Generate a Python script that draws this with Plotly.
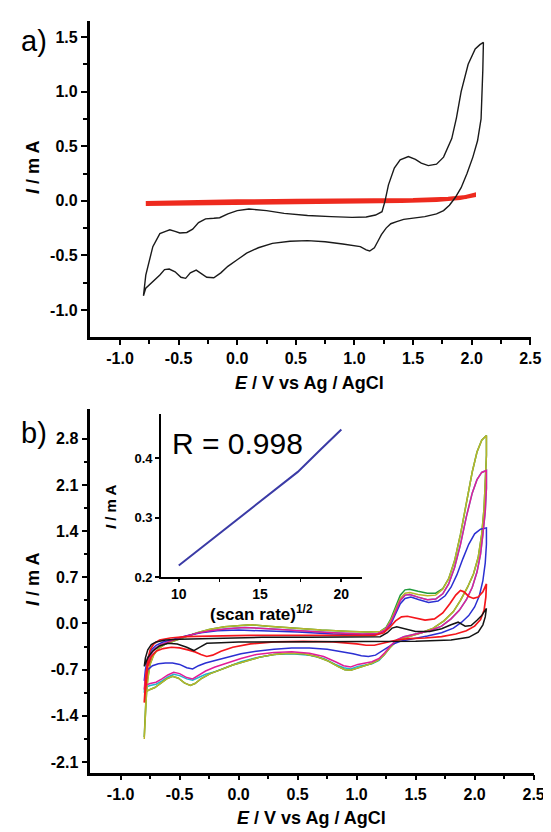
import plotly.graph_objects as go

# ---------------- data ----------------
# panel a tick labels
a_x_ticks = [-1.0, -0.5, 0.0, 0.5, 1.0, 1.5, 2.0, 2.5]
a_x_ticklabels = ['-1.0', '-0.5', '0.0', '0.5', '1.0', '1.5', '2.0', '2.5']
a_x_minor = [-0.75, -0.25, 0.25, 0.75, 1.25, 1.75, 2.25]
a_y_ticks = [-1.0, -0.5, 0.0, 0.5, 1.0, 1.5]
a_y_ticklabels = ['-1.0', '-0.5', '0.0', '0.5', '1.0', '1.5']
a_y_minor = [-0.75, -0.25, 0.25, 0.75, 1.25]

# panel b tick labels
b_y_ticks = [-2.1, -1.4, -0.7, 0.0, 0.7, 1.4, 2.1, 2.8]
b_y_ticklabels = ['-2.1', '-1.4', '-0.7', '0.0', '0.7', '1.4', '2.1', '2.8']
b_y_minor = [-1.75, -1.05, -0.35, 0.35, 1.05, 1.75, 2.45]

# inset
inset_x_ticks = [10, 15, 20]
inset_x_ticklabels = ['10', '15', '20']
inset_x_minor = [12.5, 17.5]
inset_y_ticks = [0.2, 0.3, 0.4]
inset_y_ticklabels = ['0.2', '0.3', '0.4']
inset_x = [10, 12.25, 14.14, 15.81, 17.32, 18.71, 20]
inset_y = [0.220, 0.268, 0.308, 0.344, 0.377, 0.414, 0.448]

# panel a: black CV (forward then reverse)
a_black_E = [-0.80, -0.78, -0.72, -0.66, -0.60, -0.575, -0.53, -0.49, -0.43, -0.38, -0.33, -0.27,
             -0.20, -0.15, -0.08, 0.00, 0.10, 0.25, 0.40, 0.60, 0.80, 0.98, 1.10, 1.18, 1.235,
             1.26, 1.29, 1.34, 1.39, 1.46, 1.52, 1.57, 1.63, 1.70, 1.76, 1.83, 1.87, 1.91, 1.97,
             2.03, 2.07, 2.10,
             2.10, 2.095, 2.09, 2.08, 2.05, 2.01, 1.96, 1.91, 1.86, 1.81, 1.76, 1.70, 1.60, 1.50,
             1.42, 1.36, 1.31, 1.27, 1.23, 1.20, 1.17, 1.13, 1.10, 1.05, 1.00, 0.90, 0.75, 0.60,
             0.45, 0.30, 0.18, 0.08, 0.00, -0.08, -0.14, -0.20, -0.26, -0.31, -0.35, -0.40, -0.44,
             -0.48, -0.53, -0.58, -0.62, -0.66, -0.70, -0.74, -0.78, -0.80]
a_black_I = [-0.87, -0.68, -0.42, -0.30, -0.275, -0.265, -0.28, -0.295, -0.29, -0.26, -0.20, -0.165,
             -0.16, -0.155, -0.12, -0.09, -0.075, -0.09, -0.115, -0.135, -0.145, -0.152, -0.148, -0.13, -0.10,
             -0.005, 0.146, 0.30, 0.375, 0.405, 0.38, 0.345, 0.322, 0.335, 0.40, 0.57, 0.76, 1.00, 1.25,
             1.39, 1.43, 1.45,
             1.45, 1.20, 0.95, 0.75, 0.55, 0.40, 0.25, 0.12, 0.03, -0.04, -0.09, -0.12, -0.145, -0.16,
             -0.17, -0.19, -0.21, -0.25, -0.31, -0.37, -0.43, -0.46, -0.45, -0.42, -0.41, -0.395, -0.375, -0.365,
             -0.37, -0.39, -0.43, -0.48, -0.54, -0.60, -0.66, -0.705, -0.70, -0.665, -0.635, -0.66, -0.71,
             -0.70, -0.65, -0.625, -0.63, -0.68, -0.72, -0.76, -0.80, -0.87]

# panel a: red (blank electrode) thin loop
a_red_E = [-0.78, -0.5, 0.0, 0.5, 1.0, 1.5, 1.8, 1.95, 2.02,
           2.02, 1.9, 1.7, 1.4, 1.0, 0.5, 0.0, -0.5, -0.78]
a_red_I = [-0.02, -0.012, -0.005, 0.0, 0.003, 0.008, 0.018, 0.035, 0.055,
           0.05, 0.025, 0.008, -0.002, -0.008, -0.012, -0.018, -0.024, -0.03]

# panel b curves (forward then reverse)
b_black_E = [-0.80, -0.79, -0.77, -0.74, -0.70, -0.62, -0.50, -0.30, -0.10, 0.20, 0.60, 1.00, 1.20,
             1.26, 1.30, 1.34, 1.40, 1.50, 1.62, 1.72, 1.80, 1.86, 1.92, 1.97, 2.02, 2.06, 2.10,
             2.10, 2.09, 2.07, 2.03, 1.95, 1.80, 1.50, 1.30, 1.10, 0.80, 0.40, 0.00, -0.15, -0.22,
             -0.27, -0.32, -0.38, -0.44, -0.52, -0.60, -0.67, -0.73, -0.77, -0.80]
b_black_I = [-0.65, -0.52, -0.40, -0.32, -0.28, -0.25, -0.24, -0.23, -0.22, -0.21, -0.21, -0.21, -0.20,
             -0.14, -0.07, -0.05, -0.08, -0.12, -0.12, -0.08, -0.02, 0.02, -0.04, -0.03, 0.05, 0.12, 0.23,
             0.23, 0.10, -0.02, -0.13, -0.21, -0.25, -0.27, -0.27, -0.28, -0.28, -0.28, -0.28, -0.29, -0.30,
             -0.30, -0.35, -0.41, -0.36, -0.31, -0.30, -0.34, -0.42, -0.52, -0.65]

b_red_E = [-0.80, -0.795, -0.785, -0.77, -0.75, -0.72, -0.67, -0.58, -0.45, -0.25, 0.10, 0.50, 0.90,
           1.15, 1.23, 1.28, 1.33, 1.38, 1.43, 1.50, 1.58, 1.66, 1.73, 1.79, 1.84, 1.88, 1.91, 1.95,
           1.99, 2.03, 2.07, 2.10,
           2.10, 2.095, 2.08, 2.05, 2.00, 1.93, 1.84, 1.72, 1.58, 1.44, 1.34, 1.27, 1.21, 1.15, 1.08,
           1.00, 0.80, 0.55, 0.30, 0.10, -0.05, -0.15, -0.22, -0.27, -0.32, -0.37, -0.43, -0.50, -0.57,
           -0.64, -0.70, -0.74, -0.77, -0.80]
b_red_I = [-1.20, -1.00, -0.78, -0.55, -0.40, -0.31, -0.25, -0.22, -0.20, -0.19, -0.18, -0.18, -0.18,
           -0.18, -0.14, -0.06, 0.04, 0.10, 0.11, 0.08, 0.05, 0.07, 0.16, 0.30, 0.43, 0.50, 0.48, 0.41,
           0.38, 0.40, 0.48, 0.60,
           0.60, 0.40, 0.20, 0.06, -0.04, -0.11, -0.16, -0.20, -0.22, -0.23, -0.25, -0.28, -0.31, -0.33, -0.33,
           -0.31, -0.28, -0.27, -0.28, -0.31, -0.36, -0.42, -0.48, -0.50, -0.47, -0.43, -0.40, -0.37, -0.36,
           -0.38, -0.42, -0.50, -0.65, -1.20]

b_blue_E = [-0.80, -0.79, -0.77, -0.74, -0.70, -0.64, -0.55, -0.45, -0.32, -0.18, 0.00, 0.20, 0.50,
            0.80, 1.05, 1.18, 1.24, 1.29, 1.33, 1.37, 1.41, 1.46, 1.53, 1.61, 1.69, 1.75, 1.80, 1.85,
            1.90, 1.95, 2.00, 2.05, 2.10,
            2.10, 2.10, 2.09, 2.07, 2.04, 2.00, 1.95, 1.89, 1.82, 1.72, 1.60, 1.47, 1.37, 1.31, 1.26,
            1.21, 1.16, 1.10, 1.04, 0.97, 0.88, 0.75, 0.60, 0.45, 0.30, 0.15, 0.02, -0.10, -0.20, -0.28,
            -0.34, -0.39, -0.44, -0.50, -0.56, -0.62, -0.68, -0.73, -0.77, -0.80]
b_blue_I = [-0.87, -0.70, -0.52, -0.40, -0.33, -0.28, -0.24, -0.19, -0.14, -0.11, -0.10, -0.11, -0.13,
            -0.16, -0.17, -0.16, -0.11, -0.01, 0.14, 0.30, 0.38, 0.40, 0.36, 0.32, 0.34, 0.42, 0.55, 0.74,
            0.98, 1.20, 1.36, 1.43, 1.45,
            1.45, 1.20, 0.92, 0.65, 0.42, 0.25, 0.12, 0.02, -0.07, -0.14, -0.19, -0.23, -0.27, -0.31, -0.37,
            -0.43, -0.48, -0.50, -0.49, -0.46, -0.43, -0.39, -0.37, -0.37, -0.39, -0.42, -0.46, -0.51, -0.56, -0.60,
            -0.64, -0.69, -0.67, -0.62, -0.60, -0.60, -0.61, -0.64, -0.70, -0.87]

b_magenta_E = [-0.80, -0.79, -0.77, -0.745, -0.71, -0.66, -0.58, -0.48, -0.36, -0.24, -0.10, 0.05, 0.25,
               0.50, 0.80, 1.05, 1.18, 1.24, 1.29, 1.33, 1.37, 1.41, 1.45, 1.52, 1.60, 1.67, 1.73, 1.78,
               1.83, 1.88, 1.93, 1.98, 2.02, 2.06, 2.10,
               2.10, 2.10, 2.09, 2.07, 2.05, 2.02, 1.98, 1.93, 1.87, 1.80, 1.72, 1.62, 1.50, 1.40, 1.34,
               1.29, 1.24, 1.19, 1.13, 1.07, 1.01, 0.95, 0.89, 0.82, 0.72, 0.60, 0.45, 0.30, 0.15, 0.02,
               -0.10, -0.20, -0.28, -0.34, -0.39, -0.44, -0.50, -0.55, -0.60, -0.65, -0.70, -0.75, -0.78, -0.80]
b_magenta_I = [-1.00, -0.80, -0.60, -0.47, -0.38, -0.32, -0.27, -0.21, -0.15, -0.11, -0.08, -0.06, -0.08,
               -0.11, -0.14, -0.16, -0.15, -0.10, 0.02, 0.18, 0.35, 0.43, 0.44, 0.40, 0.36, 0.37, 0.45, 0.60,
               0.85, 1.20, 1.62, 1.98, 2.18, 2.29, 2.32,
               2.32, 2.05, 1.70, 1.35, 1.05, 0.78, 0.55, 0.36, 0.20, 0.07, -0.04, -0.11, -0.16, -0.20, -0.25,
               -0.33, -0.44, -0.53, -0.58, -0.60, -0.62, -0.66, -0.64, -0.58, -0.50, -0.45, -0.43, -0.44, -0.47, -0.53,
               -0.60, -0.66, -0.72, -0.78, -0.84, -0.82, -0.76, -0.74, -0.78, -0.84, -0.89, -0.91, -0.93, -1.00]

b_cyan_E = [-0.80, -0.79, -0.77, -0.745, -0.71, -0.66, -0.58, -0.48, -0.36, -0.24, -0.10, 0.05, 0.25,
            0.50, 0.80, 1.05, 1.18, 1.24, 1.29, 1.33, 1.37, 1.41, 1.45, 1.52, 1.60, 1.67, 1.73, 1.78,
            1.83, 1.88, 1.93, 1.98, 2.02, 2.06, 2.10,
            2.10, 2.10, 2.09, 2.07, 2.05, 2.02, 1.98, 1.93, 1.87, 1.80, 1.72, 1.62, 1.50, 1.40, 1.34,
            1.29, 1.24, 1.19, 1.13, 1.07, 1.01, 0.95, 0.89, 0.82, 0.72, 0.60, 0.45, 0.30, 0.15, 0.02,
            -0.10, -0.20, -0.28, -0.34, -0.39, -0.44, -0.50, -0.55, -0.60, -0.65, -0.70, -0.75, -0.78, -0.80]
b_cyan_I = [-1.05, -0.82, -0.61, -0.48, -0.38, -0.32, -0.27, -0.21, -0.15, -0.11, -0.08, -0.06, -0.08,
            -0.11, -0.14, -0.16, -0.15, -0.10, 0.02, 0.18, 0.35, 0.43, 0.44, 0.40, 0.36, 0.37, 0.45, 0.60,
            0.85, 1.20, 1.62, 1.98, 2.18, 2.29, 2.32,
            2.32, 2.05, 1.70, 1.35, 1.05, 0.78, 0.55, 0.36, 0.20, 0.07, -0.04, -0.11, -0.16, -0.20, -0.25,
            -0.34, -0.46, -0.56, -0.61, -0.63, -0.65, -0.69, -0.67, -0.62, -0.53, -0.48, -0.46, -0.47, -0.52, -0.58,
            -0.66, -0.73, -0.77, -0.82, -0.86, -0.84, -0.79, -0.77, -0.81, -0.87, -0.92, -0.94, -0.96, -1.05]

b_yellow_E = [-0.80, -0.795, -0.785, -0.77, -0.75, -0.72, -0.68, -0.62, -0.55, -0.45, -0.35, -0.25, -0.12,
              0.00, 0.10, 0.25, 0.45, 0.70, 0.95, 1.10, 1.20, 1.25, 1.29, 1.33, 1.37, 1.41, 1.45, 1.52,
              1.60, 1.67, 1.73, 1.78, 1.83, 1.88, 1.93, 1.98, 2.02, 2.06, 2.10,
              2.10, 2.10, 2.09, 2.08, 2.06, 2.03, 1.99, 1.94, 1.88, 1.82, 1.74, 1.65, 1.55, 1.45, 1.38,
              1.33, 1.28, 1.23, 1.18, 1.12, 1.06, 1.00, 0.95, 0.90, 0.84, 0.76, 0.66, 0.55, 0.42, 0.30,
              0.18, 0.06, -0.05, -0.15, -0.24, -0.32, -0.37, -0.41, -0.46, -0.51, -0.56, -0.61, -0.66,
              -0.71, -0.75, -0.78, -0.80]
b_yellow_I = [-1.75, -1.45, -1.15, -0.85, -0.62, -0.48, -0.38, -0.31, -0.26, -0.20, -0.14, -0.09, -0.05,
              -0.03, -0.02, -0.04, -0.07, -0.10, -0.12, -0.13, -0.12, -0.07, 0.05, 0.22, 0.38, 0.46, 0.47, 0.44,
              0.42, 0.43, 0.52, 0.68, 0.95, 1.35, 1.85, 2.30, 2.60, 2.78, 2.85,
              2.85, 2.55, 2.15, 1.75, 1.35, 1.00, 0.75, 0.55, 0.35, 0.18, 0.04, -0.07, -0.14, -0.19, -0.23,
              -0.28, -0.37, -0.48, -0.56, -0.61, -0.64, -0.68, -0.71, -0.70, -0.65, -0.57, -0.50, -0.46, -0.45, -0.47,
              -0.51, -0.57, -0.63, -0.70, -0.76, -0.84, -0.91, -0.94, -0.90, -0.83, -0.80, -0.84, -0.91,
              -0.97, -1.00, -1.03, -1.75]

b_green_E = [-0.80, -0.795, -0.785, -0.77, -0.75, -0.72, -0.68, -0.62, -0.55, -0.45, -0.35, -0.25, -0.12,
             0.00, 0.10, 0.25, 0.45, 0.70, 0.95, 1.10, 1.20, 1.25, 1.29, 1.33, 1.37, 1.41, 1.45, 1.52,
             1.60, 1.67, 1.73, 1.78, 1.83, 1.88, 1.93, 1.98, 2.02, 2.06, 2.10,
             2.10, 2.10, 2.09, 2.08, 2.06, 2.03, 1.99, 1.94, 1.88, 1.82, 1.74, 1.65, 1.55, 1.45, 1.38,
             1.33, 1.28, 1.23, 1.18, 1.12, 1.06, 1.00, 0.95, 0.90, 0.84, 0.76, 0.66, 0.55, 0.42, 0.30,
             0.18, 0.06, -0.05, -0.15, -0.24, -0.32, -0.37, -0.41, -0.46, -0.51, -0.56, -0.61, -0.66,
             -0.71, -0.75, -0.78, -0.80]
b_green_I = [-1.72, -1.42, -1.12, -0.83, -0.61, -0.47, -0.38, -0.31, -0.26, -0.20, -0.14, -0.09, -0.05,
             -0.03, -0.02, -0.04, -0.07, -0.10, -0.12, -0.13, -0.12, -0.06, 0.07, 0.26, 0.43, 0.51, 0.52, 0.49,
             0.46, 0.46, 0.53, 0.68, 0.95, 1.35, 1.85, 2.30, 2.60, 2.78, 2.85,
             2.85, 2.55, 2.15, 1.75, 1.35, 1.00, 0.75, 0.55, 0.35, 0.18, 0.04, -0.07, -0.14, -0.19, -0.23,
             -0.28, -0.37, -0.48, -0.56, -0.61, -0.64, -0.68, -0.71, -0.70, -0.65, -0.57, -0.50, -0.46, -0.45, -0.47,
             -0.51, -0.57, -0.63, -0.70, -0.76, -0.84, -0.91, -0.94, -0.90, -0.83, -0.80, -0.84, -0.91,
             -0.97, -1.00, -1.03, -1.72]

# ---------------- figure ----------------
W, H = 551, 832
FONT = 'Liberation Sans'


def px(x):
    return x / W


def py(y):
    return 1 - y / H


def bold(labels):
    return ['<b>%s</b>' % s for s in labels]


fig = go.Figure()


def add(E, I, color, width, xa, ya):
    fig.add_trace(go.Scatter(x=E, y=I, mode='lines', line=dict(color=color, width=width),
                             xaxis=xa, yaxis=ya, showlegend=False, hoverinfo='skip'))


# panel a
add(a_red_E, a_red_I, '#ee2a1e', 4, 'x', 'y')
add(a_black_E, a_black_I, '#1a1a1a', 1.4, 'x', 'y')

# panel b
add(b_cyan_E, b_cyan_I, '#22b5cf', 1.5, 'x2', 'y2')
add(b_green_E, b_green_I, '#1f9a3c', 1.5, 'x2', 'y2')
add(b_yellow_E, b_yellow_I, '#b9b52a', 1.5, 'x2', 'y2')
add(b_blue_E, b_blue_I, '#2b2fd2', 1.5, 'x2', 'y2')
add(b_magenta_E, b_magenta_I, '#e21c98', 1.5, 'x2', 'y2')
add(b_red_E, b_red_I, '#f5161c', 1.7, 'x2', 'y2')
add(b_black_E, b_black_I, '#151515', 1.5, 'x2', 'y2')

# inset
add(inset_x, inset_y, '#3b3ba6', 2, 'x3', 'y3')

tickfont = dict(family=FONT, size=16, color='black')
common = dict(showgrid=False, zeroline=False, showline=True, linecolor='black',
              ticks='outside', tickcolor='black', color='black', tickfont=tickfont)
minor_main = dict(ticks='outside', ticklen=4, tickwidth=1.6, tickcolor='black')

fig.update_layout(
    width=W, height=H, autosize=False,
    margin=dict(l=0, r=0, t=0, b=0),
    paper_bgcolor='white', plot_bgcolor='white',
    xaxis=dict(domain=[px(83.3), px(533.3)], range=[-1.259, 2.503], anchor='y',
               tickmode='array', tickvals=a_x_ticks, ticktext=bold(a_x_ticklabels),
               linewidth=2.5, ticklen=5, tickwidth=2,
               minor=dict(tickmode='array', tickvals=a_x_minor, **minor_main),
               **common),
    yaxis=dict(domain=[py(332.5), py(13.3)], range=[-1.25, 1.645], anchor='x',
               tickmode='array', tickvals=a_y_ticks, ticktext=bold(a_y_ticklabels),
               linewidth=2.5, ticklen=6, tickwidth=2,
               minor=dict(tickmode='array', tickvals=a_y_minor, **minor_main),
               **common),
    xaxis2=dict(domain=[px(84), px(536.7)], range=[-1.257, 2.503], anchor='y2',
                tickmode='array', tickvals=a_x_ticks, ticktext=bold(a_x_ticklabels),
                linewidth=2.5, ticklen=5, tickwidth=2,
                minor=dict(tickmode='array', tickvals=a_x_minor, **minor_main),
                **common),
    yaxis2=dict(domain=[py(772), py(405)], range=[-2.26, 3.25], anchor='x2',
                tickmode='array', tickvals=b_y_ticks, ticktext=bold(b_y_ticklabels),
                linewidth=2.5, ticklen=6, tickwidth=2,
                minor=dict(tickmode='array', tickvals=b_y_minor, **minor_main),
                **common),
    xaxis3=dict(domain=[px(156), px(361.7)], range=[8.9, 21.3], anchor='y3',
                tickmode='array', tickvals=inset_x_ticks, ticktext=bold(inset_x_ticklabels),
                linewidth=1.5, ticklen=3, tickwidth=1.5,
                minor=dict(tickmode='array', tickvals=inset_x_minor, ticks='outside', ticklen=3,
                           tickwidth=1.2, tickcolor='black'),
                showgrid=False, zeroline=False, showline=True, linecolor='black',
                ticks='outside', tickcolor='black', color='black',
                tickfont=dict(family=FONT, size=14, color='black')),
    yaxis3=dict(domain=[py(575), py(410)], range=[0.2, 0.474], anchor='x3',
                tickmode='array', tickvals=inset_y_ticks, ticktext=bold(inset_y_ticklabels),
                linewidth=1.5, ticklen=4, tickwidth=1.5,
                showgrid=False, zeroline=False, showline=True, linecolor='black',
                ticks='outside', tickcolor='black', color='black',
                tickfont=dict(family=FONT, size=13, color='black')),
)


def note(text, x, y, size, angle=0, is_bold=True):
    if is_bold:
        text = '<b>%s</b>' % text
    fig.add_annotation(text=text, x=px(x), y=py(y), xref='paper', yref='paper',
                       xanchor='center', yanchor='middle', showarrow=False, textangle=angle,
                       font=dict(family=FONT, size=size, color='black'))


note('a)', 27, 33, 29, is_bold=False)
note('b)', 27, 429, 29, is_bold=False)
note('<i>I</i> / m A', 26, 161, 18, angle=-90)
note('<i>E</i> / V vs Ag / AgCl', 308, 379, 18)
note('<i>I</i> / m A', 26, 577, 18, angle=-90)
note('<i>E</i> / V vs Ag / AgCl', 310, 818, 18)
note('R = 0.998', 234, 440, 30, is_bold=False)
note('<i>I</i> / m A', 104, 503, 15, angle=-90)
note('(scan rate)<sup>1/2</sup>', 259, 611, 17)

fig.write_html('out.html')
